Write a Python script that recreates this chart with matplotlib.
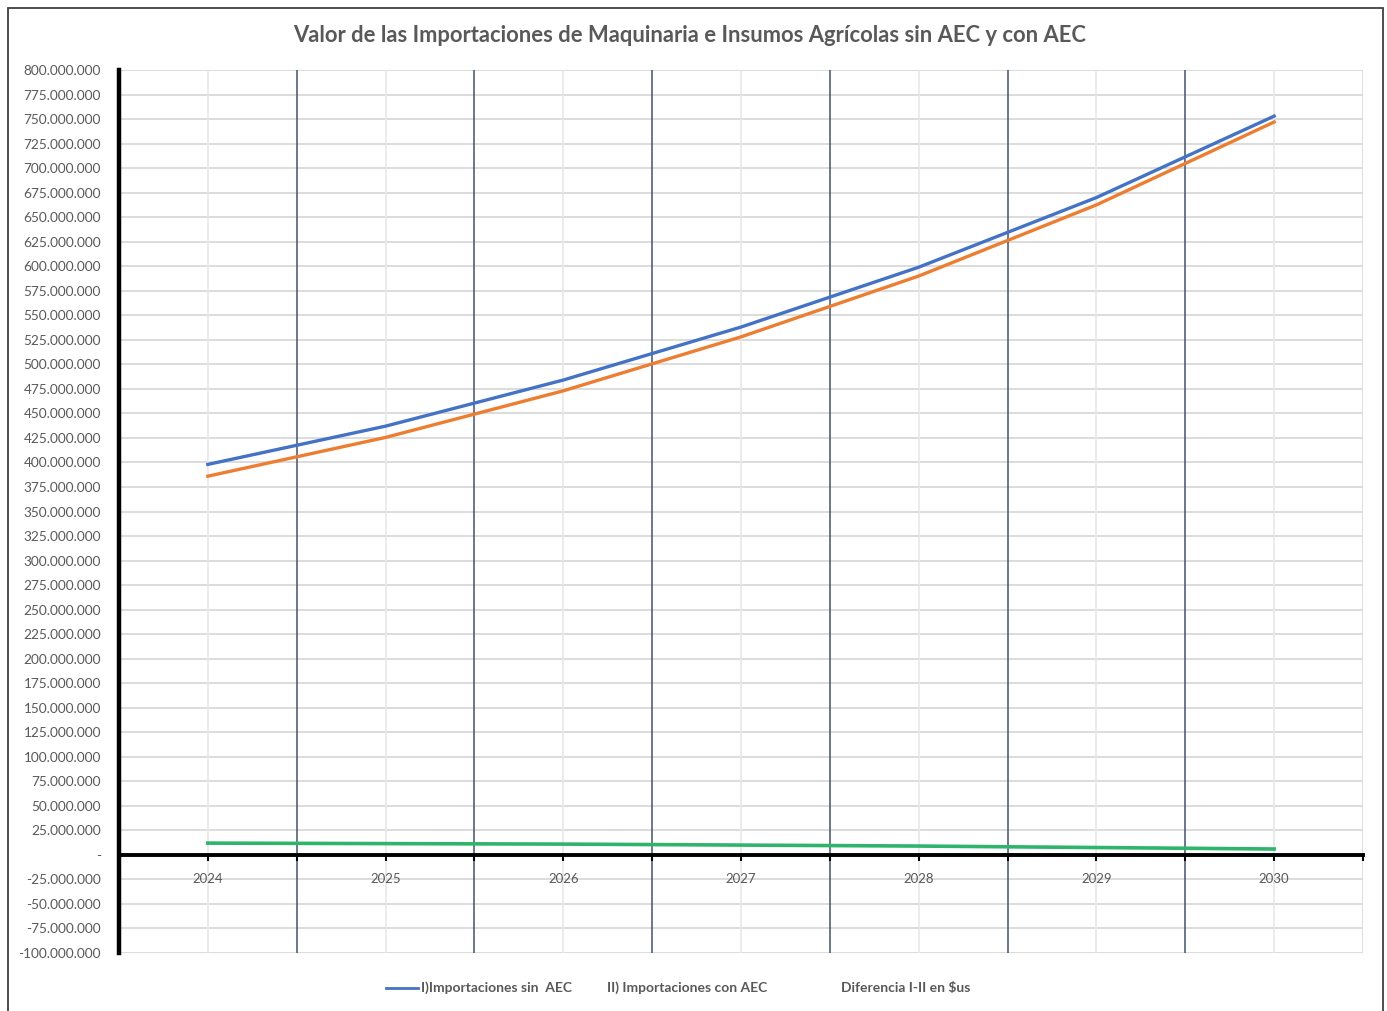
import matplotlib
matplotlib.use("Agg")
import matplotlib.pyplot as plt
from matplotlib.lines import Line2D
from matplotlib.patches import Rectangle
from matplotlib.ticker import FuncFormatter, MultipleLocator
import numpy as np

plt.rcParams['font.family'] = ['Lato', 'DejaVu Sans']

# data (US$)
years = ['2024', '2025', '2026', '2027', '2028', '2029', '2030']
sin_aec = [398e6, 437e6, 484e6, 538e6, 599e6, 670e6, 753e6]
con_aec = [386e6, 425.5e6, 473e6, 528e6, 590e6, 662.5e6, 747e6]
diferencia = [12e6, 11.5e6, 11e6, 10e6, 9e6, 7.5e6, 6e6]
labels = ['I)Importaciones sin  AEC', 'II) Importaciones con AEC', 'Diferencia I-II en $us']

gray = '#595959'
W, H = 1387, 1011

fig = plt.figure(figsize=(13.87, 10.11), dpi=100)
ax = fig.add_axes([119/W, 1-953/H, (1363-119)/W, (953-70)/H])

# outer frame of the chart
fig.patches.append(Rectangle((8/W, -0.01), (1383-8)/W, 1.01-8/H,
                             transform=fig.transFigure, fill=False,
                             edgecolor='#404040', linewidth=1.3))

x = np.arange(len(years))

# gridlines
for v in np.arange(-100e6, 800e6 + 1, 25e6):
    ax.axhline(v, color='#d9d9d9', linewidth=1.3, zorder=0)
for c in x:
    ax.axvline(c, color='#e8e8e8', linewidth=1.2, zorder=0)
for b in np.arange(0.5, 6, 1):
    ax.axvline(b, color='#44546a', linewidth=1.1, zorder=1)
ax.axvline(6.5, color='#d9d9d9', linewidth=1.2, zorder=0)

ax.plot(x, sin_aec, color='#4472c4', linewidth=2.4, zorder=3)
ax.plot(x, con_aec, color='#ed7d31', linewidth=2.4, zorder=3)
ax.plot(x, diferencia, color='#2eb56b', linewidth=2.6, zorder=3)

ax.set_xlim(-0.5, 6.5)
ax.set_ylim(-100e6, 800e6)
ax.yaxis.set_major_locator(MultipleLocator(25e6))


def fmt(v, pos):
    if abs(v) < 1:
        return '-'
    return '{:,.0f}'.format(v).replace(',', '.')


ax.yaxis.set_major_formatter(FuncFormatter(fmt))
ax.tick_params(axis='y', length=0, pad=13, labelsize=9.8, labelcolor=gray)

ax.set_xticks(x)
ax.set_xticklabels(years)
ax.set_xticks(np.arange(-0.5, 6.6, 1), minor=True)
ax.tick_params(axis='x', which='both', direction='out', length=4, width=1.5,
               color='black', labelsize=9.5, labelcolor=gray, pad=9)

for s in ['top', 'right']:
    ax.spines[s].set_visible(False)
ax.spines['left'].set_linewidth(3.2)
ax.spines['left'].set_color('black')
ax.spines['bottom'].set_position(('data', 0))
ax.spines['bottom'].set_linewidth(2.8)
ax.spines['bottom'].set_color('black')
ax.spines['bottom'].set_zorder(4)

fig.text(0.497, 1-35/H, 'Valor de las Importaciones de Maquinaria e Insumos Agrícolas sin AEC y con AEC',
         ha='center', va='center', fontsize=15.8, fontweight='bold', color=gray)

# legend row: only the first entry shows its line sample
ly = 1-988/H
fig.add_artist(Line2D([386/W, 418/W], [ly, ly], color='#4472c4', linewidth=2,
                      transform=fig.transFigure))
for lx, lab in zip([421, 607, 841], labels):
    fig.text(lx/W, ly, lab, ha='left', va='center', fontsize=10,
             fontweight='bold', color=gray)

fig.savefig('out.png', dpi=100)
